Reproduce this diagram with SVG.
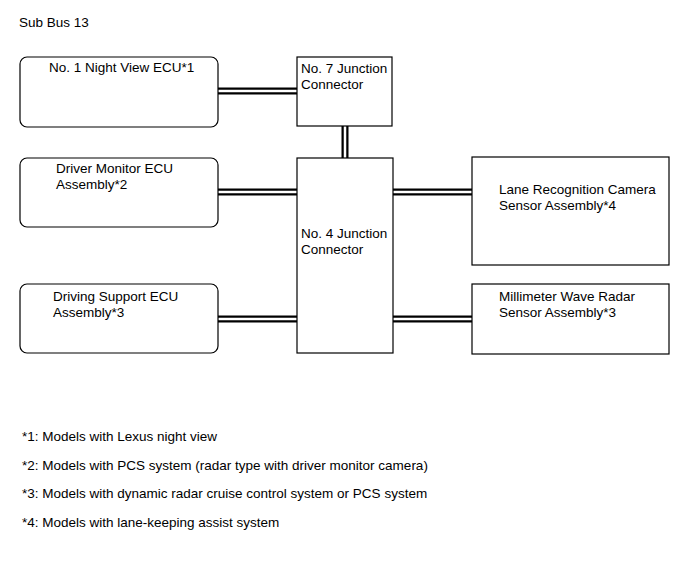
<svg xmlns="http://www.w3.org/2000/svg" width="690" height="562" viewBox="0 0 690 562">
<style>
text{font-family:"Liberation Sans",Arial,sans-serif;font-size:13.5px;fill:#000}
.box{fill:#fff;stroke:#000;stroke-width:1.2}
.bo{fill:none;stroke:#000;stroke-width:7}
.bi{fill:none;stroke:#fff;stroke-width:2.5}
</style>
<rect width="690" height="562" fill="#fff"/>
<text x="19" y="27">Sub Bus 13</text>
<g id="connectors">
<path class="bo" d="M218 91H297M345 126V158M218 192H297M393 192H472M218 319H297M393 319H472"/>
<path class="bi" d="M218 91H297M345 126V158M218 192H297M393 192H472M218 319H297M393 319H472"/>
</g>
<g id="n1"><rect class="box" x="20" y="57" width="198" height="70" rx="7"/><text x="49" y="71.5">No. 1 Night View ECU*1</text></g>
<g id="n7"><rect class="box" x="297" y="57" width="95" height="69"/><text x="301" y="73">No. 7 Junction</text><text x="301" y="88.5">Connector</text></g>
<g id="dm"><rect class="box" x="20" y="158" width="198" height="69" rx="7"/><text x="56" y="173">Driver Monitor ECU</text><text x="56" y="188.5">Assembly*2</text></g>
<g id="n4"><rect class="box" x="297" y="158" width="96" height="195"/><text x="301" y="238">No. 4 Junction</text><text x="301" y="254">Connector</text></g>
<g id="ds"><rect class="box" x="20" y="284" width="198" height="69" rx="7"/><text x="53" y="301">Driving Support ECU</text><text x="53" y="316.5">Assembly*3</text></g>
<g id="lr"><rect class="box" x="472" y="157" width="197" height="108"/><text x="499" y="194">Lane Recognition Camera</text><text x="499" y="209.5">Sensor Assembly*4</text></g>
<g id="mw"><rect class="box" x="472" y="284" width="197" height="70"/><text x="499" y="301">Millimeter Wave Radar</text><text x="499" y="316.5">Sensor Assembly*3</text></g>
<text x="22" y="441">*1: Models with Lexus night view</text>
<text x="22" y="470">*2: Models with PCS system (radar type with driver monitor camera)</text>
<text x="22" y="498">*3: Models with dynamic radar cruise control system or PCS system</text>
<text x="22" y="527">*4: Models with lane-keeping assist system</text>
</svg>
